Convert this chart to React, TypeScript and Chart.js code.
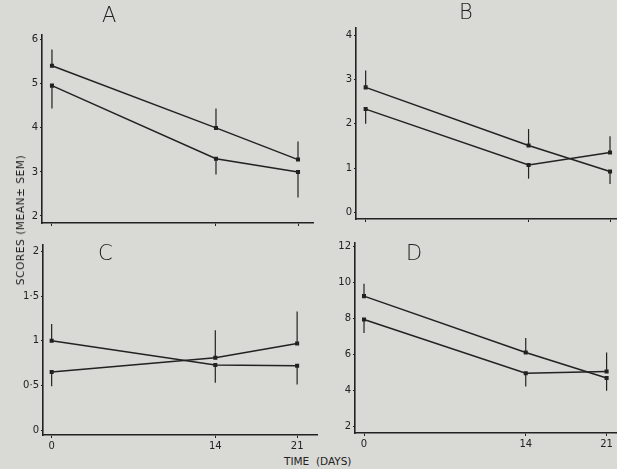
import React, { useEffect, useRef } from "react";
import { Chart, registerables } from "chart.js";
Chart.register(...registerables);

// ---- data ----
const days = [0, 14, 21];

const aGroup1 = [5.41, 4.0, 3.28];
const aErr1 = [0.37, 0.44, 0.41];
const aGroup2 = [4.96, 3.3, 3.0];
const aErr2 = [-0.52, -0.36, -0.58];
const aTicks = [2, 3, 4, 5, 6];
const aTickLabels = ["2", "3", "4", "5", "6"];

const bGroup1 = [2.82, 1.51, 0.92];
const bErr1 = [0.38, 0.37, -0.28];
const bGroup2 = [2.33, 1.07, 1.35];
const bErr2 = [-0.33, -0.31, 0.37];
const bTicks = [0, 1, 2, 3, 4];
const bTickLabels = ["0", "1", "2", "3", "4"];

const cGroup1 = [1.0, 0.73, 0.72];
const cErr1 = [0.19, -0.2, -0.21];
const cGroup2 = [0.65, 0.81, 0.97];
const cErr2 = [-0.16, 0.31, 0.36];
const cTicks = [0, 0.5, 1, 1.5, 2];
const cTickLabels = ["0", "0·5", "1", "1·5", "2"];

const dGroup1 = [9.25, 6.12, 4.7];
const dErr1 = [0.69, 0.81, -0.7];
const dGroup2 = [7.95, 4.97, 5.07];
const dErr2 = [-0.75, -0.74, 1.05];
const dTicks = [2, 4, 6, 8, 10, 12];
const dTickLabels = ["2", "4", "6", "8", "10", "12"];

const panelLetters = ["A", "B", "C", "D"];
const xTitle = "TIME  (DAYS)";
const yTitle = "SCORES (MEAN± SEM)";

const INK = "#222222";
const FONT = "'DejaVu Sans', sans-serif";

const errPlugin = {
  id: "errbars",
  afterDatasetsDraw(chart: any, _args: any, opts: any) {
    const { ctx, scales } = chart;
    const x = scales.x;
    const y = scales.y;
    const errs: number[][] = opts.errors || [];
    ctx.save();
    ctx.strokeStyle = INK;
    ctx.lineWidth = 1.2;
    chart.data.datasets.forEach((ds: any, di: number) => {
      const e = errs[di] || [];
      ds.data.forEach((p: any, i: number) => {
        const px = x.getPixelForValue(p.x);
        ctx.beginPath();
        ctx.moveTo(px, y.getPixelForValue(p.y));
        ctx.lineTo(px, y.getPixelForValue(p.y + (e[i] || 0)));
        ctx.stroke();
      });
    });
    ctx.restore();
  },
};

type Panel = {
  left: number; top: number; right: number; bottom: number;
  xMin: number; xMax: number; yMin: number; yMax: number;
  ticks: number[]; labels: string[]; showX: boolean;
  g1: number[]; e1: number[]; g2: number[]; e2: number[];
};

const panels: Panel[] = [
  { left: 42, top: 35, right: 313, bottom: 227, xMin: -0.85, xMax: 22.28, yMin: 1.84, yMax: 6.11,
    ticks: aTicks, labels: aTickLabels, showX: false, g1: aGroup1, e1: aErr1, g2: aGroup2, e2: aErr2 },
  { left: 356, top: 28, right: 617, bottom: 223, xMin: -0.83, xMax: 21.6, yMin: -0.15, yMax: 4.16,
    ticks: bTicks, labels: bTickLabels, showX: false, g1: bGroup1, e1: bErr1, g2: bGroup2, e2: bErr2 },
  { left: 43, top: 245, right: 317, bottom: 435, xMin: -0.74, xMax: 22.7, yMin: -0.056, yMax: 2.075,
    ticks: cTicks, labels: cTickLabels, showX: true, g1: cGroup1, e1: cErr1, g2: cGroup2, e2: cErr2 },
  { left: 355, top: 243, right: 617, bottom: 433, xMin: -0.78, xMax: 21.9, yMin: 1.65, yMax: 12.2,
    ticks: dTicks, labels: dTickLabels, showX: true, g1: dGroup1, e1: dErr1, g2: dGroup2, e2: dErr2 },
];

const LW = 30, TP = 10, RP = 10;

function PanelChart({ p }: { p: Panel }) {
  const ref = useRef<HTMLCanvasElement | null>(null);
  const BH = p.showX ? 20 : 4;
  const w = LW + (p.right - p.left) + RP;
  const h = TP + (p.bottom - p.top) + BH;
  useEffect(() => {
    if (!ref.current) return;
    const mk = (vals: number[]) => days.map((d, i) => ({ x: d, y: vals[i] }));
    const ds = (vals: number[]) => ({
      data: mk(vals),
      borderColor: INK,
      backgroundColor: INK,
      borderWidth: 1.5,
      pointStyle: "rect",
      pointRadius: 1.8,
      pointBackgroundColor: INK,
      pointBorderColor: INK,
      tension: 0,
    });
    const chart = new Chart(ref.current, {
      type: "line",
      data: { datasets: [ds(p.g1), ds(p.g2)] as any },
      options: {
        animation: false,
        responsive: false,
        devicePixelRatio: 1,
        layout: { padding: { top: TP, right: RP, left: 0, bottom: 0 } },
        plugins: {
          legend: { display: false },
          tooltip: { enabled: false },
          errbars: { errors: [p.e1, p.e2] },
        } as any,
        scales: {
          x: {
            type: "linear",
            min: p.xMin,
            max: p.xMax,
            afterBuildTicks: (s: any) => { s.ticks = days.map((v) => ({ value: v })); },
            afterFit: (s: any) => { s.height = BH; },
            grid: { display: true, drawOnChartArea: false, drawTicks: true, tickLength: 3, color: INK },
            border: { display: true, color: INK, width: 1.6 },
            ticks: {
              display: p.showX,
              autoSkip: false,
              maxRotation: 0,
              padding: 2,
              color: INK,
              font: { family: FONT, size: 10 },
              callback: (v: any) => String(v),
            },
          },
          y: {
            type: "linear",
            min: p.yMin,
            max: p.yMax,
            afterBuildTicks: (s: any) => { s.ticks = p.ticks.map((v) => ({ value: v })); },
            afterFit: (s: any) => { s.width = LW; },
            grid: { display: true, drawOnChartArea: false, drawTicks: true, tickLength: 2, color: INK },
            border: { display: true, color: INK, width: 1.6 },
            ticks: {
              autoSkip: false,
              padding: 2,
              color: INK,
              font: { family: FONT, size: 10 },
              callback: (_v: any, i: number) => p.labels[i],
            },
          },
        },
      },
      plugins: [errPlugin],
    });
    return () => chart.destroy();
  }, []);
  return (
    <canvas
      ref={ref}
      width={w}
      height={h}
      style={{ position: "absolute", left: p.left - LW, top: p.top - TP, width: w, height: h }}
    />
  );
}

const letterPos = [
  { x: 102, y: 5 },
  { x: 459, y: 2 },
  { x: 98, y: 243 },
  { x: 406, y: 243 },
];

export default function App() {
  return (
    <div
      style={{
        position: "fixed", left: 0, top: 0, width: 617, height: 469,
        background: "#d9d9d5", overflow: "hidden", fontFamily: FONT, color: INK,
      }}
    >
      {panels.map((p, i) => <PanelChart key={i} p={p} />)}
      {panelLetters.map((l, i) => (
        <div key={l} style={{ position: "absolute", left: letterPos[i].x, top: letterPos[i].y, fontSize: 21, lineHeight: "21px", fontWeight: 300 }}>
          {l}
        </div>
      ))}
      <div style={{ position: "absolute", left: 284, top: 455, fontSize: 10.5, whiteSpace: "pre", lineHeight: "12px" }}>
        {xTitle}
      </div>
      <div
        style={{
          position: "absolute", left: 20, top: 220, fontSize: 10.5, whiteSpace: "nowrap", lineHeight: "12px",
          transform: "translate(-50%, -50%) rotate(-90deg)", letterSpacing: 0.6,
        }}
      >
        {yTitle}
      </div>
    </div>
  );
}
